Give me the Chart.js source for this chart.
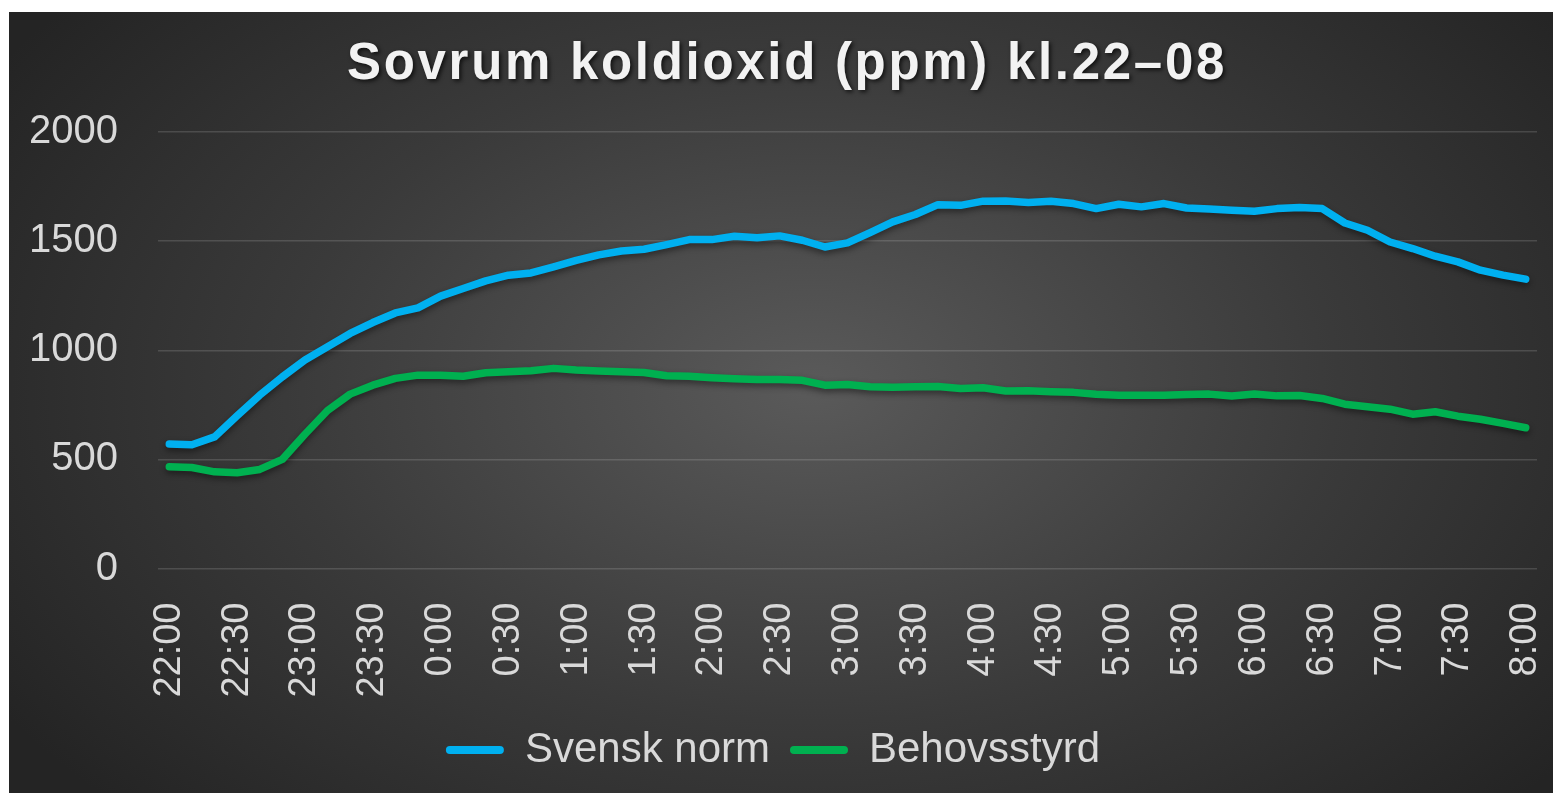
<!DOCTYPE html>
<html>
<head>
<meta charset="utf-8">
<script src="https://cdn.jsdelivr.net/npm/chart.js@4.4.0/dist/chart.umd.min.js"></script>
<style>
  html, body { margin: 0; padding: 0; background: #fff; }
  #wrap {
    position: absolute; left: 9px; top: 12px; width: 1544px; height: 781px;
    background: radial-gradient(ellipse 62% 78% at 52% 48%, #5a5a5a 0%, #3a3a3a 55%, #242424 100%);
  }
</style>
</head>
<body>
<div id="wrap"><canvas id="container"></canvas></div>
<script>
"use strict";

const times = [
    "22:00","22:10","22:20","22:30","22:40","22:50",
    "23:00","23:10","23:20","23:30","23:40","23:50",
    "0:00","0:10","0:20","0:30","0:40","0:50",
    "1:00","1:10","1:20","1:30","1:40","1:50",
    "2:00","2:10","2:20","2:30","2:40","2:50",
    "3:00","3:10","3:20","3:30","3:40","3:50",
    "4:00","4:10","4:20","4:30","4:40","4:50",
    "5:00","5:10","5:20","5:30","5:40","5:50",
    "6:00","6:10","6:20","6:30","6:40","6:50",
    "7:00","7:10","7:20","7:30","7:40","7:50",
    "8:00"
];

const svenskNorm = [
    570, 567, 603, 700, 794, 878, 955, 1016, 1077, 1127,
    1171, 1194, 1248, 1283, 1318, 1344, 1354, 1382, 1412, 1437,
    1455, 1463, 1484, 1507, 1507, 1522, 1515, 1524, 1504, 1473,
    1492, 1539, 1588, 1622, 1667, 1664, 1683, 1684, 1677, 1683,
    1672, 1649, 1669, 1657, 1672, 1652, 1647, 1641, 1637, 1649,
    1654, 1649, 1583, 1550, 1496, 1466, 1431, 1405, 1367, 1344,
    1326
];

const behovsstyrd = [
    466, 463, 443, 439, 454, 500, 615, 724, 799, 840,
    871, 886, 885, 881, 897, 901, 906, 917, 909, 905,
    901, 898, 883, 881, 874, 869, 866, 866, 862, 840,
    843, 833, 830, 833, 834, 825, 828, 813, 814, 810,
    807, 798, 794, 794, 794, 797, 799, 790, 800, 791,
    793, 779, 753, 741, 730, 707, 718, 698, 684, 665,
    645
];

const yTicks = [0, 500, 1000, 1500, 2000];
const titleText = "Sovrum koldioxid (ppm) kl.22\u201308";

const textColor = "#d9d9d9";
const fontName = "'Liberation Sans', Arial, sans-serif";

// title with letter spacing + shadow
const titlePlugin = {
    id: "bigTitle",
    afterDraw(chart) {
        const c = chart.ctx;
        c.save();
        c.font = "bold 51px " + fontName;
        c.letterSpacing = "2.7px";
        c.textAlign = "center";
        c.textBaseline = "middle";
        c.shadowColor = "rgba(0,0,0,0.7)";
        c.shadowBlur = 4;
        c.shadowOffsetX = 2;
        c.shadowOffsetY = 2;
        c.fillStyle = "#f2f2f2";
        c.fillText(titleText, chart.width / 2 + 6, 53);
        c.restore();
    }
};

// soft shadow under the lines
const lineShadow = {
    id: "lineShadow",
    beforeDatasetsDraw(chart) {
        const c = chart.ctx;
        c.save();
        c.shadowColor = "rgba(0,0,0,0.45)";
        c.shadowBlur = 6;
        c.shadowOffsetY = 3;
    },
    afterDatasetsDraw(chart) {
        chart.ctx.restore();
    }
};

var ctx = document.getElementById("container").getContext("2d");
var dataChart = new Chart(ctx, {
    type: "line",
    data: {
        labels: times,
        datasets: [{
            label: "Svensk norm",
            borderColor: "#00B0F0",
            backgroundColor: "#00B0F0",
            data: svenskNorm,
        }, {
            label: "Behovsstyrd",
            borderColor: "#00B050",
            backgroundColor: "#00B050",
            data: behovsstyrd,
        }]
    },
    options: {
        responsive: true,
        maintainAspectRatio: false,
        animation: false,
        layout: {
            padding: { top: 120, left: 0, right: 16, bottom: 12 }
        },
        elements: {
            line: { borderWidth: 7.5, tension: 0, borderCapStyle: "round", borderJoinStyle: "round" },
            point: { radius: 0, hoverRadius: 0 }
        },
        plugins: {
            title: { display: false },
            tooltip: { enabled: false },
            legend: {
                position: "bottom",
                labels: {
                    color: textColor,
                    font: { family: fontName, size: 42 },
                    boxWidth: 58,
                    boxHeight: 8,
                    padding: 20,
                    useBorderRadius: true,
                    borderRadius: 4,
                    generateLabels: function(chart) {
                        var items = Chart.defaults.plugins.legend.labels.generateLabels(chart);
                        items.forEach(it => { it.lineWidth = 0; });
                        return items;
                    }
                }
            }
        },
        scales: {
            x: {
                offset: true,
                grid: { display: false },
                border: { display: false },
                afterFit: (s) => {
                    s.height = 140.5;
                    s.paddingLeft = 0;
                    s.paddingRight = 0;
                },
                ticks: {
                    autoSkip: false,
                    minRotation: 90,
                    maxRotation: 90,
                    padding: 26,
                    color: textColor,
                    font: { family: fontName, size: 38 },
                    callback: function(val, i) {
                        return i % 3 === 0 ? times[i] : "";
                    }
                }
            },
            y: {
                min: yTicks[0],
                max: yTicks[yTicks.length - 1],
                afterFit: (s) => { s.width = 149; },
                afterBuildTicks: (s) => { s.ticks = yTicks.map(v => ({ value: v })); },
                grid: { color: "rgba(255,255,255,0.14)", lineWidth: 1.5, drawTicks: false },
                border: { display: false },
                ticks: {
                    padding: 40,
                    color: textColor,
                    font: { family: fontName, size: 40 },
                    callback: (v) => String(v)
                }
            }
        }
    },
    plugins: [titlePlugin, lineShadow]
});
</script>
</body>
</html>
